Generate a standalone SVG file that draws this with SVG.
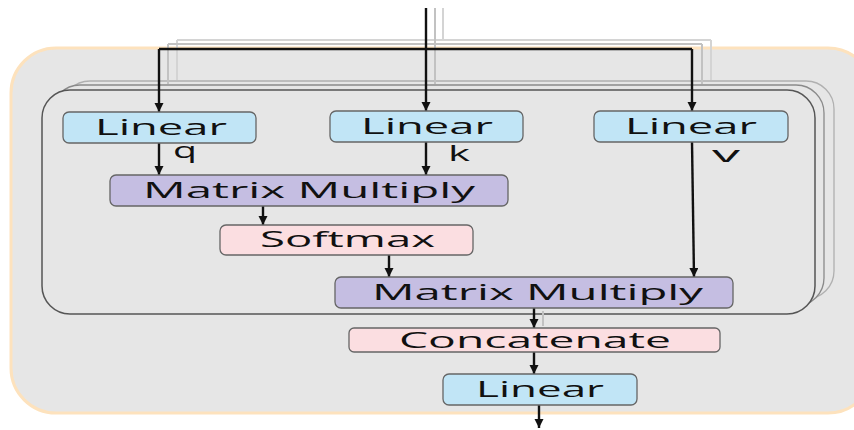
<svg xmlns="http://www.w3.org/2000/svg" width="854" height="430" viewBox="0 0 854 430">
<style>
.lbl{font-family:"Open Sans","DejaVu Sans",sans-serif;font-size:21px;fill:#111;}
.node{stroke:#666;stroke-width:1.3;}
.blue{fill:#c1e5f6;}
.purple{fill:#c5bee2;}
.pink{fill:#fbdee1;}
.arrow{stroke:#111;stroke-width:2.4;fill:none;}
.ghost1{stroke:#c2c2c2;stroke-width:2;fill:none;}
.ghost2{stroke:#d4d4d4;stroke-width:2;fill:none;}
</style>
<defs>
<marker id="ah" markerUnits="userSpaceOnUse" markerWidth="11" markerHeight="11" refX="9" refY="4.5" orient="auto">
<path d="M0,0 L9,4.5 L0,9 z" fill="#111"/>
</marker>
</defs>
<rect width="854" height="430" fill="#ffffff"/>
<!-- outer panel -->
<rect id="panel" x="11" y="48" width="862" height="365" rx="45" ry="45" fill="#e6e6e6" stroke="#fde2bd" stroke-width="3"/>
<!-- stacked heads -->
<g id="heads">
<rect x="62" y="81" width="772" height="218" rx="28" ry="28" fill="#e6e6e6" stroke="#b0b0b0" stroke-width="1.3"/>
<rect x="52" y="85" width="772" height="221" rx="28" ry="28" fill="#e6e6e6" stroke="#8a8a8a" stroke-width="1.3"/>
<rect x="42" y="90" width="773" height="224" rx="28" ry="28" fill="#e6e6e6" stroke="#555" stroke-width="1.5"/>
</g>
<!-- connectors -->
<g id="connectors">
<path class="ghost2" d="M443,8 V40 M177,40 H711 M177,40 V80 M711,40 V80" />
<path class="ghost1" d="M435,8 V44 M168,44 H702 M168,44 V84 M702,44 V84 M435,44 V84" />
<line class="ghost1" x1="543" y1="311" x2="543" y2="326"/>
<line class="arrow" x1="426" y1="8" x2="426" y2="111" marker-end="url(#ah)"/>
<path class="arrow" d="M159,49 H692"/>
<line class="arrow" x1="159" y1="49" x2="159" y2="112" marker-end="url(#ah)"/>
<line class="arrow" x1="692" y1="49" x2="692" y2="111" marker-end="url(#ah)"/>
<line class="arrow" x1="159" y1="143" x2="159" y2="175" marker-end="url(#ah)"/>
<line class="arrow" x1="426" y1="142" x2="426" y2="175" marker-end="url(#ah)"/>
<line class="arrow" x1="263" y1="206" x2="263" y2="225" marker-end="url(#ah)"/>
<line class="arrow" x1="389" y1="255" x2="389" y2="277" marker-end="url(#ah)"/>
<line class="arrow" x1="692" y1="142" x2="694" y2="277" marker-end="url(#ah)"/>
<line class="arrow" x1="534" y1="308" x2="534" y2="328" marker-end="url(#ah)"/>
<line class="arrow" x1="534" y1="352" x2="534" y2="374" marker-end="url(#ah)"/>
<line class="arrow" x1="539" y1="405" x2="539" y2="428" marker-end="url(#ah)"/>
<text class="lbl" x="173" y="158" textLength="24" lengthAdjust="spacingAndGlyphs">q</text>
<text class="lbl" x="448" y="161" textLength="22" lengthAdjust="spacingAndGlyphs">k</text>
<text class="lbl" x="712" y="162" textLength="28" lengthAdjust="spacingAndGlyphs">v</text>
</g>
<g id="linear-q">
<rect class="node blue" x="63" y="112" width="193" height="31" rx="6"/>
<text class="lbl" x="95" y="135" textLength="132" lengthAdjust="spacingAndGlyphs">Linear</text>
</g>
<g id="linear-k">
<rect class="node blue" x="330" y="111" width="193" height="31" rx="6"/>
<text class="lbl" x="361" y="134" textLength="132" lengthAdjust="spacingAndGlyphs">Linear</text>
</g>
<g id="linear-v">
<rect class="node blue" x="594" y="111" width="194" height="31" rx="6"/>
<text class="lbl" x="625" y="134" textLength="132" lengthAdjust="spacingAndGlyphs">Linear</text>
</g>
<g id="matmul-1">
<rect class="node purple" x="110" y="175" width="398" height="31" rx="6"/>
<text class="lbl" x="143" y="198" textLength="332" lengthAdjust="spacingAndGlyphs">Matrix Multiply</text>
</g>
<g id="softmax">
<rect class="node pink" x="220" y="225" width="253" height="30" rx="6"/>
<text class="lbl" x="260" y="247" textLength="175" lengthAdjust="spacingAndGlyphs">Softmax</text>
</g>
<g id="matmul-2">
<rect class="node purple" x="335" y="277" width="398" height="31" rx="6"/>
<text class="lbl" x="372" y="300" textLength="331" lengthAdjust="spacingAndGlyphs">Matrix Multiply</text>
</g>
<g id="concatenate">
<rect class="node pink" x="349" y="328" width="371" height="24" rx="5"/>
<text class="lbl" x="399" y="348" textLength="272" lengthAdjust="spacingAndGlyphs">Concatenate</text>
</g>
<g id="linear-out">
<rect class="node blue" x="443" y="374" width="194" height="31" rx="6"/>
<text class="lbl" x="476" y="397" textLength="128" lengthAdjust="spacingAndGlyphs">Linear</text>
</g>
</svg>
